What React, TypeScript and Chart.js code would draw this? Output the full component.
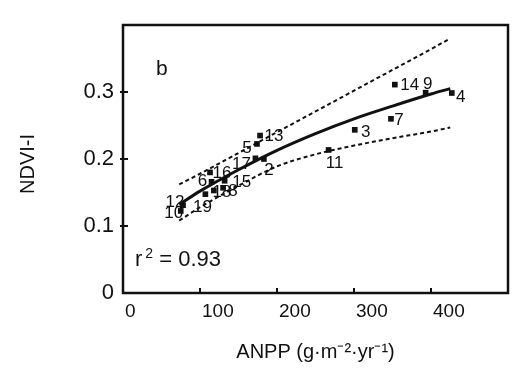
import React, { useEffect, useRef } from "react";
import { Chart, registerables } from "chart.js";

Chart.register(...registerables);

// ---- data ----
const siteIds = ["14", "9", "4", "7", "3", "11", "13", "5", "2", "17", "16", "6", "15", "18", "8", "19", "12", "10"];
const anppValues = [353, 393, 427, 348, 301, 267, 178, 174, 183, 172, 113, 115, 132, 118, 130, 107, 78, 75];
const ndviValues = [0.311, 0.299, 0.2985, 0.26, 0.2435, 0.2135, 0.235, 0.2225, 0.2, 0.201, 0.18, 0.166, 0.1675, 0.153, 0.157, 0.1475, 0.131, 0.1225];

const curveX = [73, 100, 150, 200, 250, 300, 350, 400, 425];
const fitY = [0.132, 0.152, 0.184, 0.213, 0.238, 0.26, 0.279, 0.297, 0.305];
const upperY = [0.162, 0.178, 0.209, 0.24, 0.271, 0.302, 0.333, 0.364, 0.38];
const lowerY = [0.108, 0.128, 0.16, 0.189, 0.207, 0.22, 0.231, 0.241, 0.247];

const xTickValues = [100, 200, 300, 400];
const yTickValues = [0.1, 0.2, 0.3];

const panelLetter = "b";
const r2Text = "0.93";
const xTitle = "ANPP (g·m⁻²·yr⁻¹)";
const yTitle = "NDVI-I";

// ---- label placement (pixels, relative to point) ----
const labelDx = [15, 2, 9, 8, 11, 6, 14, -10, 5, -14, 12, -9, 17, 8, 10, -3, -8, -7];
const labelDy = [1, -8, 4, 2, 2, 13, 1, 4, 11, 6, 1, 0, 2, 2, 4, 13, -3, 2];

const INK = "#111111";
const FONT = "'Liberation Sans', Arial, Helvetica, sans-serif";

const decor = {
  id: "decor",
  afterDatasetsDraw(chart: any) {
    const { ctx, chartArea: a, scales } = chart;
    const xs = scales.x;
    const ys = scales.y;
    ctx.save();
    ctx.strokeStyle = INK;
    ctx.fillStyle = INK;
    ctx.lineWidth = 2.5;
    ctx.strokeRect(a.left, a.top, a.right - a.left, a.bottom - a.top);

    ctx.lineWidth = 2;
    yTickValues.forEach((v) => {
      const y = ys.getPixelForValue(v);
      ctx.beginPath();
      ctx.moveTo(a.left - 3, y);
      ctx.lineTo(a.left + 5, y);
      ctx.stroke();
    });
    xTickValues.forEach((v) => {
      const x = xs.getPixelForValue(v);
      ctx.beginPath();
      ctx.moveTo(x, a.bottom + 1);
      ctx.lineTo(x, a.bottom - 5);
      ctx.stroke();
    });

    // point labels
    ctx.font = `17px ${FONT}`;
    ctx.textAlign = "center";
    ctx.textBaseline = "middle";
    const meta = chart.getDatasetMeta(3);
    meta.data.forEach((el: any, i: number) => {
      ctx.fillText(siteIds[i], el.x + labelDx[i], el.y + labelDy[i]);
    });

    // panel letter
    ctx.textAlign = "left";
    ctx.textBaseline = "alphabetic";
    ctx.font = `21px ${FONT}`;
    ctx.fillText(panelLetter, a.left + 33, a.top + 50);

    // r^2
    let x = a.left + 12;
    const yb = a.bottom - 27;
    ctx.font = `22px ${FONT}`;
    ctx.fillText("r", x, yb);
    x += ctx.measureText("r").width + 3;
    ctx.font = `14px ${FONT}`;
    ctx.fillText("2", x, yb - 8);
    x += ctx.measureText("2").width;
    ctx.font = `22px ${FONT}`;
    ctx.fillText(" = " + r2Text, x, yb);

    // y title
    ctx.translate(28, 164);
    ctx.rotate(-Math.PI / 2);
    ctx.font = `20px ${FONT}`;
    ctx.textAlign = "center";
    ctx.textBaseline = "middle";
    ctx.fillText(yTitle, 0, 0);
    ctx.restore();
  },
};

export default function App() {
  const ref = useRef<HTMLCanvasElement | null>(null);

  useEffect(() => {
    if (!ref.current) return;
    const pts = (ys: number[]) => curveX.map((x, i) => ({ x, y: ys[i] }));
    const chart = new Chart(ref.current, {
      type: "scatter",
      data: {
        datasets: [
          {
            type: "line",
            label: "upper",
            data: pts(upperY),
            borderColor: INK,
            borderWidth: 2,
            borderDash: [4, 3],
            pointRadius: 0,
            showLine: true,
            fill: false,
            cubicInterpolationMode: "monotone",
          } as any,
          {
            type: "line",
            label: "lower",
            data: pts(lowerY),
            borderColor: INK,
            borderWidth: 2,
            borderDash: [4, 3],
            pointRadius: 0,
            showLine: true,
            fill: false,
            cubicInterpolationMode: "monotone",
          } as any,
          {
            type: "line",
            label: "fit",
            data: pts(fitY),
            borderColor: INK,
            borderWidth: 3,
            pointRadius: 0,
            showLine: true,
            fill: false,
            cubicInterpolationMode: "monotone",
          } as any,
          {
            type: "scatter",
            label: "sites",
            data: anppValues.map((x, i) => ({ x, y: ndviValues[i] })),
            pointStyle: "rect",
            pointRadius: 4,
            backgroundColor: INK,
            borderWidth: 0,
          } as any,
        ],
      },
      options: {
        animation: false,
        responsive: false,
        events: [],
        layout: { padding: { top: 25, right: 14, left: 0, bottom: 0 } },
        plugins: { legend: { display: false }, tooltip: { enabled: false } },
        scales: {
          x: {
            type: "linear",
            min: 0,
            max: 500,
            grid: { display: false, drawTicks: false },
            border: { display: false },
            ticks: {
              stepSize: 100,
              align: "start",
              labelOffset: 2,
              padding: 7,
              color: INK,
              font: { family: FONT, size: 19 },
              callback: (v: any) => (v === 500 ? "" : String(v)),
            },
            title: {
              display: true,
              text: xTitle,
              color: INK,
              font: { family: FONT, size: 20 },
              padding: { top: 0, bottom: 9 },
            },
            afterFit: (s: any) => {
              s.height = 80;
            },
          },
          y: {
            type: "linear",
            min: 0,
            max: 0.4,
            grid: { display: false, drawTicks: false },
            border: { display: false },
            ticks: {
              stepSize: 0.1,
              padding: 9,
              color: INK,
              font: { family: FONT, size: 22 },
              callback: (v: any) => {
                const n = Number(Number(v).toFixed(1));
                return n >= 0.4 ? "" : String(n);
              },
            },
            afterFit: (s: any) => {
              s.width = 123;
            },
          },
        },
      },
      plugins: [decor],
    });
    return () => chart.destroy();
  }, []);

  return (
    <div style={{ position: "absolute", left: 0, top: 0, width: 522, height: 373, background: "#fff" }}>
      <canvas ref={ref} width={522} height={373} style={{ display: "block" }} />
    </div>
  );
}
